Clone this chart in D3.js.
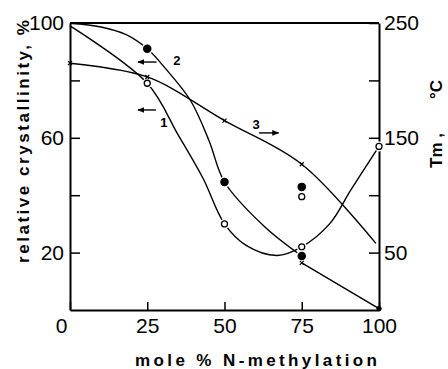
<!DOCTYPE html>
<html>
<head>
<meta charset="utf-8">
<script src="https://cdn.jsdelivr.net/npm/d3@7"></script>
<style>
  body { margin: 0; background: #fff; }
  svg { display: block; }
</style>
</head>
<body>
<div id="chart"></div>
<script>
// x: mole % N-methylation
const xTicks = [0, 25, 50, 75, 100];
const leftTicks = [20, 40, 60, 80, 100];
const leftLabels = [20, 60, 100];
const rightTicks = [50, 100, 150, 200, 250];
const rightLabels = [50, 150, 250];

// curve 1 (open circles, relative crystallinity, left axis)
const curve1 = [[0, 99], [25, 79], [35, 61], [43, 46], [50, 30], [57, 22.5], [67, 19], [75, 22], [84, 30], [91, 42], [100, 57]];
const open1 = [[25, 79], [50, 30], [75, 22], [100, 57]];

// curve 2 (filled circles, relative crystallinity, left axis)
const curve2 = [[0, 100], [10, 98.6], [18, 96], [25, 91], [31, 84], [39, 73], [45, 59], [50, 44.6], [63, 29], [75, 18.8]];
const curve2Tail = [[75, 16.4], [100, 0.5]];
const filled2 = [[25, 91], [50, 44.6], [75, 18.8]];
const filledEnd = [[100, 0.5]];

// curve 3 (crosses, Tm in °C, right axis)
const curve3 = [[0, 215], [25, 203], [50, 165], [75, 127], [99, 58]];
const cross3 = [[0, 215], [25, 203], [50, 165], [75, 127]];

// extra points at 75 %
const extraOpen = [[75, 39.5]];
const extraFilled = [[75, 42.9]];
const extraCross = [[75, 16.4]];

const width = 448, height = 369;
const margin = { top: 23, right: 69, bottom: 59, left: 70 };

const svg = d3.select("#chart").append("svg")
  .attr("width", width)
  .attr("height", height);

const x = d3.scaleLinear().domain([0, 100]).range([margin.left, width - margin.right]);
const yL = d3.scaleLinear().domain([0, 100]).range([height - margin.bottom, margin.top]);
const yR = d3.scaleLinear().domain([0, 250]).range([height - margin.bottom, margin.top]);

const tickFont = "'Liberation Sans', Arial, sans-serif";
const boldFont = "'Liberation Sans', Arial, sans-serif";

// Axes
const bottom = svg.append("g")
  .attr("transform", `translate(0,${yL(0)})`)
  .call(d3.axisBottom(x).tickValues(xTicks).tickSizeInner(-8).tickSizeOuter(0).tickPadding(8));

const left = svg.append("g")
  .attr("transform", `translate(${x(0)},0)`)
  .call(d3.axisLeft(yL).tickValues(leftTicks).tickSizeInner(-10).tickSizeOuter(0).tickPadding(6)
    .tickFormat(d => leftLabels.includes(d) ? d : ""));

const right = svg.append("g")
  .attr("transform", `translate(${x(100)},0)`)
  .call(d3.axisRight(yR).tickValues(rightTicks).tickSizeInner(-10).tickSizeOuter(0).tickPadding(5)
    .tickFormat(d => rightLabels.includes(d) ? d : ""));

[bottom, left, right].forEach(g => {
  g.select(".domain").attr("stroke", "#000").attr("stroke-width", 2);
  g.selectAll(".tick line").attr("stroke", "#000").attr("stroke-width", 1.5);
  g.selectAll(".tick text")
    .attr("fill", "#000")
    .style("font-family", tickFont)
    .style("font-size", "21px");
});
bottom.selectAll(".tick text").attr("dx", d => d === 0 ? -9 : 0);

// top frame line
svg.append("line")
  .attr("x1", x(0)).attr("x2", x(100))
  .attr("y1", yL(100)).attr("y2", yL(100))
  .attr("stroke", "#000").attr("stroke-width", 2);

// Curves
const lineL = d3.line().x(d => x(d[0])).y(d => yL(d[1])).curve(d3.curveCatmullRom.alpha(0.5));
const lineR = d3.line().x(d => x(d[0])).y(d => yR(d[1])).curve(d3.curveCatmullRom.alpha(0.5));

[curve1, curve2, curve2Tail].forEach(pts => {
  svg.append("path").datum(pts).attr("d", lineL)
    .attr("fill", "none").attr("stroke", "#000").attr("stroke-width", 1.4);
});
svg.append("path").datum(curve3).attr("d", lineR)
  .attr("fill", "none").attr("stroke", "#000").attr("stroke-width", 1.4);

// Markers (white halo to leave small gaps in the lines)
function circles(pts, r, filled, halo = true) {
  if (halo) {
    svg.append("g").selectAll("circle").data(pts).enter().append("circle")
      .attr("cx", d => x(d[0])).attr("cy", d => yL(d[1])).attr("r", r + 2)
      .attr("fill", "#fff");
  }
  svg.append("g").selectAll("circle").data(pts).enter().append("circle")
    .attr("cx", d => x(d[0])).attr("cy", d => yL(d[1])).attr("r", r)
    .attr("fill", filled ? "#000" : "#fff")
    .attr("stroke", "#000").attr("stroke-width", 1.3);
}
function crosses(pts, yScale) {
  const g = svg.append("g");
  pts.forEach(d => {
    const cx = x(d[0]), cy = yScale(d[1]), s = 2;
    g.append("path")
      .attr("d", `M${cx - s},${cy - s}L${cx + s},${cy + s}M${cx - s},${cy + s}L${cx + s},${cy - s}`)
      .attr("stroke", "#000").attr("stroke-width", 1.2);
  });
}
circles(open1, 3, false);
circles(extraOpen, 3, false);
circles(filled2, 3.6, true);
circles(extraFilled, 3.6, true);
circles(filledEnd, 2, true, false);
crosses(cross3, yR);
crosses(extraCross, yL);

// Curve labels and arrows
const curveLabels = ["1", "2", "3"];
const labelPos = [[30.4, 65.5], [34.6, 86.8], [60.2, 64.5]];
const arrows = [[27.8, 22, 69.7], [28, 22, 86.4], [61.2, 67.5, 61.7]];

svg.append("defs").append("marker")
  .attr("id", "head")
  .attr("viewBox", "0 0 10 10")
  .attr("refX", 9).attr("refY", 5)
  .attr("markerWidth", 5).attr("markerHeight", 5)
  .attr("orient", "auto")
  .append("path").attr("d", "M0,1L10,5L0,9Z").attr("fill", "#000");

svg.append("g").selectAll("text").data(curveLabels).enter().append("text")
  .attr("x", (d, i) => x(labelPos[i][0]))
  .attr("y", (d, i) => yL(labelPos[i][1]))
  .attr("text-anchor", "middle")
  .attr("dy", "0.35em")
  .attr("fill", "#000")
  .style("font-family", boldFont)
  .style("font-weight", "bold")
  .style("font-size", "13px")
  .text(d => d);

svg.append("g").selectAll("line").data(arrows).enter().append("line")
  .attr("x1", d => x(d[0])).attr("x2", d => x(d[1]))
  .attr("y1", d => yL(d[2])).attr("y2", d => yL(d[2]))
  .attr("stroke", "#000").attr("stroke-width", 1.4)
  .attr("marker-end", "url(#head)");

// Axis titles
svg.append("text")
  .attr("transform", `translate(29,263) rotate(-90)`)
  .attr("textLength", 243)
  .attr("lengthAdjust", "spacing")
  .attr("fill", "#000")
  .style("font-family", boldFont)
  .style("font-weight", "bold")
  .style("font-size", "17px")
  .text("relative crystallinity, %");

svg.append("text")
  .attr("x", 135).attr("y", 366)
  .attr("textLength", 242)
  .attr("lengthAdjust", "spacing")
  .attr("fill", "#000")
  .style("font-family", boldFont)
  .style("font-weight", "bold")
  .style("font-size", "17px")
  .text("mole %  N-methylation");

svg.append("text")
  .attr("transform", `translate(442,168) rotate(-90)`)
  .attr("fill", "#000")
  .style("font-family", boldFont)
  .style("font-weight", "bold")
  .style("font-size", "17px")
  .text("Tm ,");

svg.append("text")
  .attr("transform", `translate(442,80) rotate(-90)`)
  .attr("text-anchor", "end")
  .attr("fill", "#000")
  .style("font-family", boldFont)
  .style("font-weight", "bold")
  .style("font-size", "17px")
  .text("°C");
</script>
</body>
</html>
